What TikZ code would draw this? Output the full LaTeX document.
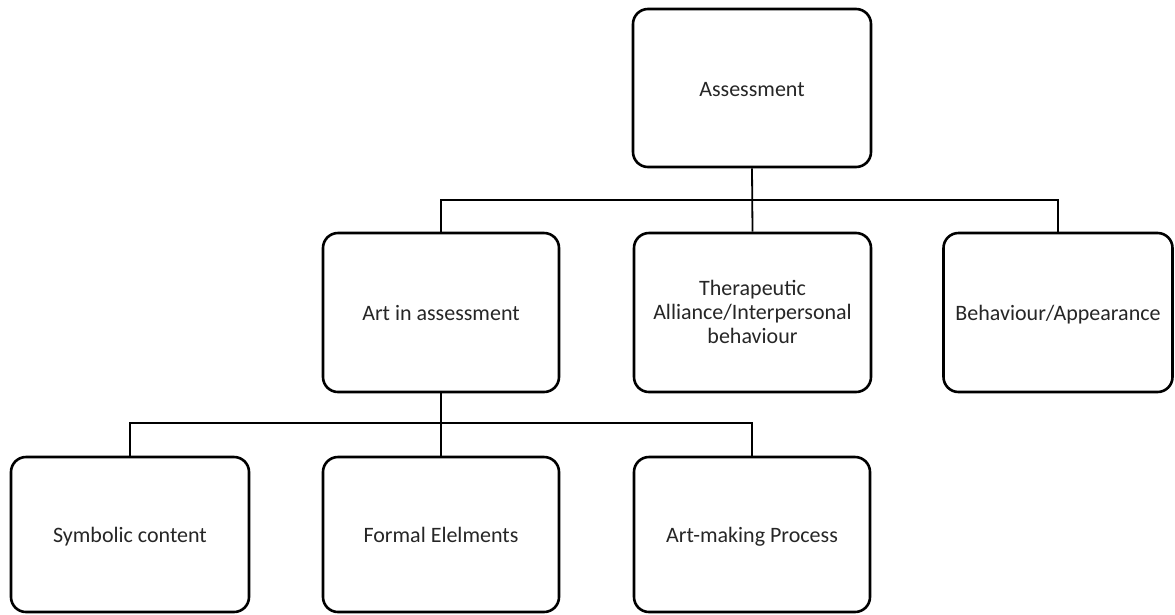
\documentclass[tikz,border=0pt]{standalone}
\usepackage{fontspec}
\setmainfont{Carlito}
\newcommand\tstrut{\rule[-6pt]{0pt}{28pt}}
\begin{document}
\begin{tikzpicture}[x=1pt,y=1pt,
  box/.style={draw=black, line width=2.6pt, rounded corners=15pt, fill=white,
    align=center, inner sep=4pt, text=black!85,
    font=\fontsize{22}{24}\selectfont},
  conn/.style={draw=black, line width=1.8pt}]
\useasboundingbox (0,0) rectangle (1175,-614);
% level 1
\node[box, minimum width=238pt, minimum height=158pt] (assess) at (752,-88) {\tstrut Assessment};
% level 2
\node[box, minimum width=236pt, minimum height=159pt] (art) at (441,-312.5) {\tstrut Art in assessment};
\node[box, minimum width=237pt, minimum height=159pt] (thera) at (752.5,-312.5) {\tstrut Therapeutic\\\strut Alliance/Interpersonal\\\strut behaviour};
\node[box, minimum width=229pt, minimum height=159pt] (behav) at (1058,-312.5) {\tstrut Behaviour/Appearance};
% level 3
\node[box, minimum width=238pt, minimum height=155pt] (symb) at (130,-534.5) {\tstrut Symbolic content};
\node[box, minimum width=236pt, minimum height=155pt] (formal) at (441,-534.5) {\tstrut Formal Elelments};
\node[box, minimum width=236pt, minimum height=155pt] (process) at (752,-534.5) {\tstrut Art-making Process};
% connectors
\coordinate (bar1) at (752,-200);
\coordinate (bar2) at (441,-423);
\draw[conn] (assess.south) -- (thera.north);
\draw[conn] (art.north) |- (bar1) -| (behav.north);
\draw[conn] (art.south) -- (formal.north);
\draw[conn] (symb.north) |- (bar2) -| (process.north);
\end{tikzpicture}
\end{document}
